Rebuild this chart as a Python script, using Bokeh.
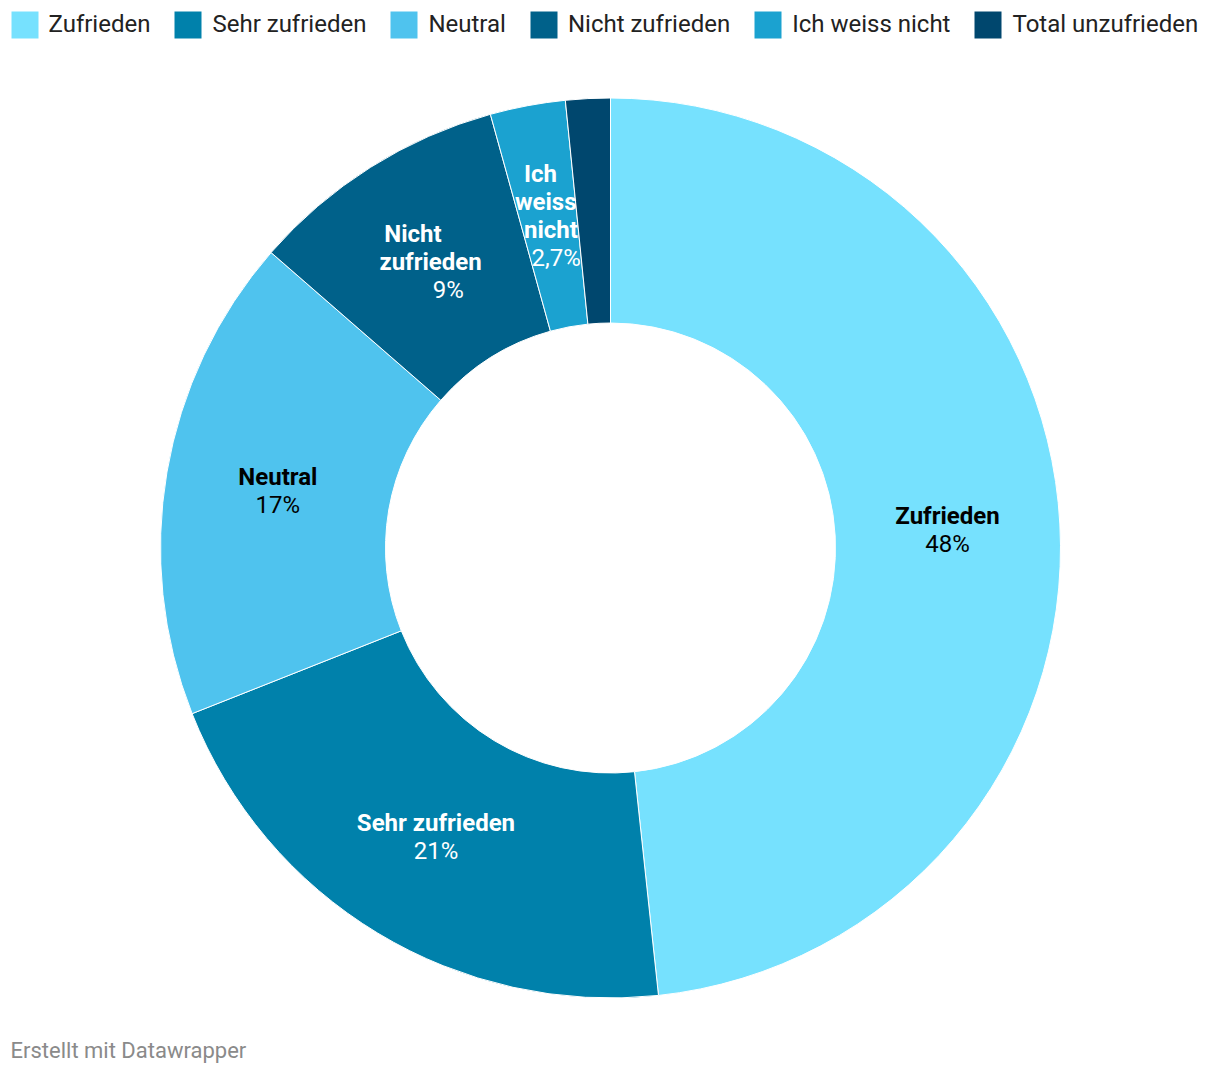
import math
from bokeh.plotting import figure
from bokeh.models import ColumnDataSource, Range1d, Legend, LegendItem
from bokeh.core.properties import value
from bokeh.embed import file_html
from bokeh.resources import INLINE

categories = ["Zufrieden", "Sehr zufrieden", "Neutral", "Nicht zufrieden", "Ich weiss nicht", "Total unzufrieden"]
shares = [48.3, 20.7, 17.4, 9.3, 2.7, 1.6]
colors = ["#76e1fe", "#0081ab", "#4fc3ee", "#00618a", "#1ba2d0", "#00476e"]
label_colors = ["#000000", "#ffffff", "#000000", "#ffffff", "#ffffff", "#ffffff"]

W, H = 1220, 1074
CX, CY_PX = 610, 547.5
R_OUT, R_IN = 450, 225
FONT = "Roboto"

def ypx(y):
    return H - y

total = sum(shares)
starts, ends, cum = [], [], 0.0
for s in shares:
    starts.append(math.pi / 2 - 2 * math.pi * cum / total)
    cum += s
    ends.append(math.pi / 2 - 2 * math.pi * cum / total)

src = ColumnDataSource(dict(cat=categories, start=starts, end=ends, color=colors))

p = figure(width=W, height=H, x_range=Range1d(0, W), y_range=Range1d(0, H),
           output_backend="svg", toolbar_location=None, min_border=0,
           outline_line_color=None, background_fill_color="white")
p.axis.visible = False
p.grid.visible = False

r = p.annular_wedge(x=CX, y=ypx(CY_PX), inner_radius=R_IN, outer_radius=R_OUT,
                    start_angle="start", end_angle="end", direction="clock",
                    fill_color="color", line_color="white", line_width=1, source=src)

# slice labels
LINE = 28
tx, ty, tt, tc, tst = [], [], [], [], []
cum = 0.0
for cat, s, lc in zip(categories, shares, label_colors):
    mid = (cum + s / 2) / total
    cum += s
    if s < 2:
        continue
    ang = 2 * math.pi * mid
    r_mid = (R_IN + R_OUT) / 2
    lx = CX + r_mid * math.sin(ang)
    ly = CY_PX - r_mid * math.cos(ang)
    pct = (f"{s:.0f}%" if s >= 5 else f"{s:.1f}".replace(".", ",") + "%")
    name_lines = cat.split(" ") if s < 10 else [cat]
    lines = [(n, "bold") for n in name_lines] + [(pct, "normal")]
    n = len(lines)
    slope = (CX - lx) / (CY_PX - ly) if (len(name_lines) > 1 and abs(CY_PX - ly) > 1e-6) else 0.0
    for k, (txt, st) in enumerate(lines):
        off = (k - (n - 1) / 2) * LINE
        tx.append(lx + off * slope)
        ty.append(ypx(ly + off))
        tt.append(txt)
        tc.append(lc)
        tst.append(st)

lab = ColumnDataSource(dict(x=tx, y=ty, t=tt, c=tc, s=tst))
p.text(x="x", y="y", text="t", source=lab, text_color="c", text_font_style="s",
       text_font=value(FONT), text_font_size="24px", text_align="center",
       text_baseline="middle")

# legend (area legend glyphs are inset by 10% on each side)
G = 35
items = [LegendItem(label=c, renderers=[r], index=i) for i, c in enumerate(categories)]
legend = Legend(items=items, orientation="horizontal", location=(6.5, H - 6.5 - G),
                glyph_width=G, glyph_height=G, label_height=G, label_standoff=7,
                spacing=20, padding=0, margin=0, border_line_alpha=0,
                background_fill_alpha=0, label_text_font=FONT,
                label_text_font_size="24px", label_text_color="#222222",
                label_text_baseline="middle")
p.add_layout(legend, "center")

# footer
p.text(x=[10], y=[ypx(1050)], text=["Erstellt mit Datawrapper"], text_font=value(FONT),
       text_font_size="22px", text_color="#8a8a8a", text_baseline="middle")

open("out.html", "w").write(file_html(p, INLINE))
